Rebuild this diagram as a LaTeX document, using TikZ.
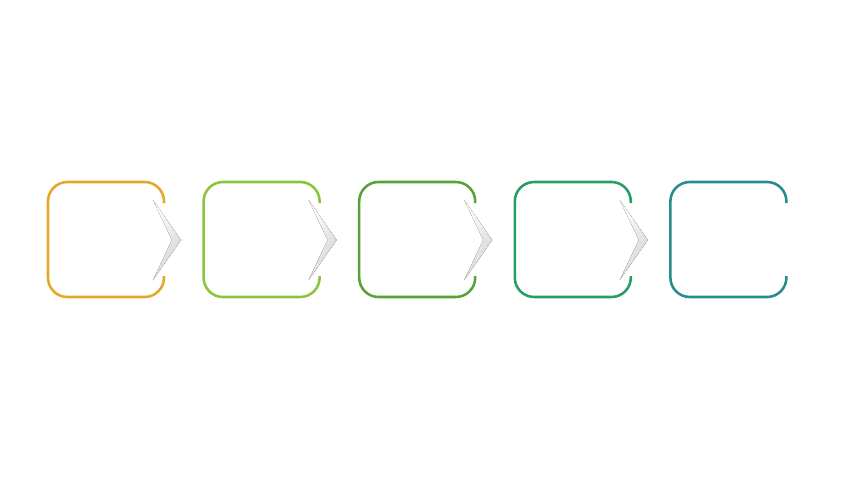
\documentclass[tikz,border=0pt]{standalone}
\usepackage{tikz}
\usetikzlibrary{calc,math}

\definecolor{stageA}{RGB}{226,168,42}
\definecolor{stageB}{RGB}{140,196,60}
\definecolor{stageC}{RGB}{88,162,58}
\definecolor{stageD}{RGB}{38,158,100}
\definecolor{stageE}{RGB}{40,140,140}

\tikzset{
  stagebox/.style={line width=1.45pt,rounded corners=11pt},
  chevron/.style={left color=white,right color=gray!35,shading angle=60}
}

\begin{document}
\begin{tikzpicture}[x=0.02cm,y=-0.02cm]
  \useasboundingbox[fill=white] (0,0) rectangle (852,480);

  \foreach \c [count=\i from 0] in {stageA,stageB,stageC,stageD,stageE} {
    \tikzmath{
      real \x;
      \x = 48 + \i * 155.6;
    }
    \coordinate (s\i) at (\x,182);
    \draw[stagebox,draw=\c] ($ (s\i) + (116,21) $) -- ++(0,-21) -- ++(-116,0)
      -- ++(0,115) -- ++(116,0) -- ++(0,-21);
  }

  % arrows between the stages
  \foreach \i in {0,1,2,3} {
    \coordinate (t\i) at ($ (s\i) + (133,58) $);
    \fill[chevron] ($ (t\i) + (-28,-40) $) -- (t\i) -- ($ (t\i) + (-28,40) $)
      -- ($ (t\i) + (-9,0) $) -- cycle;
  }
\end{tikzpicture}
\end{document}
